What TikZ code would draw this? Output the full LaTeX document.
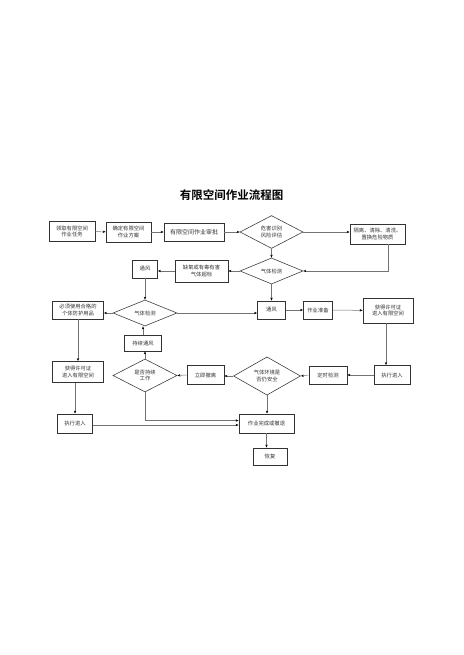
\documentclass[tikz,border=0pt]{standalone}
\usepackage{fontspec}
\newfontfamily\cjk{Noto Sans CJK SC}
\newfontfamily\cjkbold{Noto Sans CJK SC Bold}
\usetikzlibrary{shapes.geometric,arrows.meta}
\tikzset{
  box/.style={draw=black!80, line width=0.8pt, fill=white, inner sep=0pt, align=center,
    font=\cjk\fontsize{5.3}{6.8}\selectfont, text=black!80},
  dia/.style={draw=black!75, line width=0.6pt, fill=white, diamond, inner sep=0pt, align=center,
    font=\cjk\fontsize{5.3}{6.8}\selectfont, text=black!80},
  conn/.style={draw=black!55, line width=0.5pt, -{Stealth[length=3pt,width=2.4pt,black]}},
  plain/.style={draw=black!55, line width=0.5pt}
}
\begin{document}
\begin{tikzpicture}[x=1pt,y=-1pt]
\useasboundingbox[fill=white] (0,0) rectangle (463,655);
\node[font=\cjkbold\fontsize{11.5}{12}\selectfont] (title) at (231.5,195) {有限空间作业流程图};

\node[box, minimum width=46pt, minimum height=20pt] (b1) at (72,231.5) {领取有限空间\\作业任务};
\node[box, minimum width=45pt, minimum height=20pt] (b2) at (128.5,232) {确定有限空间\\作业方案};
\node[box, minimum width=60pt, minimum height=18pt, font=\cjk\fontsize{6}{7}\selectfont] (b3) at (194,232) {有限空间作业审批};
\node[dia, minimum width=63pt, minimum height=32pt] (d1) at (271.5,232) {危害识别\\风险评估};
\node[box, minimum width=55pt, minimum height=20pt] (b4) at (377.5,234) {隔离、清除、清洗、\\置换危险物质};
\node[dia, minimum width=63pt, minimum height=20pt] (d2) at (271.5,271) {气体检测};
\node[box, minimum width=53pt, minimum height=22pt] (b5) at (201.5,271) {缺氧或有毒有害\\气体超标};
\node[box, minimum width=25pt, minimum height=18pt] (b6) at (145,269) {通风};
\node[dia, minimum width=64pt, minimum height=22pt] (d3) at (145,313) {气体检测};
\node[box, minimum width=51pt, minimum height=18pt] (b7) at (78,310) {必须使用合格的\\个体防护用品};
\node[box, minimum width=28pt, minimum height=18pt] (b8) at (271.5,310) {通风};
\node[box, minimum width=29pt, minimum height=18pt] (b9) at (318,310) {作业准备};
\node[box, minimum width=50pt, minimum height=25pt] (b10) at (388,310.5) {获得许可证\\进入有限空间};
\node[box, minimum width=36pt, minimum height=19pt] (b11) at (392,375) {执行进入};
\node[box, minimum width=38pt, minimum height=18pt] (b12) at (328,375) {定时检测};
\node[dia, minimum width=67pt, minimum height=31pt] (d4) at (267,376) {气体环境是\\否仍安全};
\node[box, minimum width=37pt, minimum height=19pt] (b13) at (205.5,375) {立即撤离};
\node[dia, minimum width=64pt, minimum height=33pt] (d5) at (145,375.5) {是否持续\\工作};
\node[box, minimum width=37pt, minimum height=16pt] (b14) at (143,343) {持续通风};
\node[box, minimum width=51pt, minimum height=21pt] (b15) at (78,372) {获得许可证\\进入有限空间};
\node[box, minimum width=35pt, minimum height=19pt] (b16) at (75,423.5) {执行进入};
\node[box, minimum width=55pt, minimum height=19pt] (b17) at (266.5,423.5) {作业完成或撤退};
\node[box, minimum width=34pt, minimum height=17pt] (b18) at (270,456.5) {恢复};

\draw[conn] (b1) -- (b2);
\draw[conn] (b2.east) -- (b2.east -| b3.west);
\draw[conn] (b3) -- (d1);
\draw[conn] (d1.east) -- (d1.east -| b4.west);
\draw[conn] (d1) -- (d2);
\draw[conn] ([xshift=11pt]b4.south) |- (d2.east);
\draw[conn] (d2.west) -- (b5.east);
\draw[conn] (b5.west) -- (b5.west -| b6.east);
\draw[conn] (b6) -- (d3);
\draw[conn] (d3.west) -- (d3.west -| b7.east);
\draw[conn] (d3.east) -- (d3.east -| b8.west);
\draw[conn] (d2) -- (b8);
\draw[conn] (b8) -- (b9);
\draw[conn] (b9) -- (b10);
\draw[conn] ([xshift=-2pt]b10.south) -- ([xshift=-2pt]b10.south |- b11.north);
\draw[conn] (b11) -- (b12);
\draw[conn] (b12.west) -- (d4.east);
\draw[conn] (d4.west) -- (d4.west -| b13.east);
\draw[conn] (b13.west) -- (d5.east);
\draw[conn] (d5.north) -- (d5.north |- b14.south);
\draw[conn] (b14.north) -- (b14.north |- d3.south);
\draw[conn] (b7.south) -- (b15.north);
\draw[conn] ([xshift=-3pt]b15.south) -- ([xshift=-3pt]b15.south |- b16.north);
\draw[conn] ([yshift=-1.5pt]b16.east) -- ([yshift=-1.5pt]b17.west);
\draw[conn] (d5.south) |- ([yshift=3pt]b17.west);
\draw[conn] (d4.south) -- (d4.south |- b17.north);
\draw[conn] (b17.south) -- (b17.south |- b18.north);
\end{tikzpicture}
\end{document}
